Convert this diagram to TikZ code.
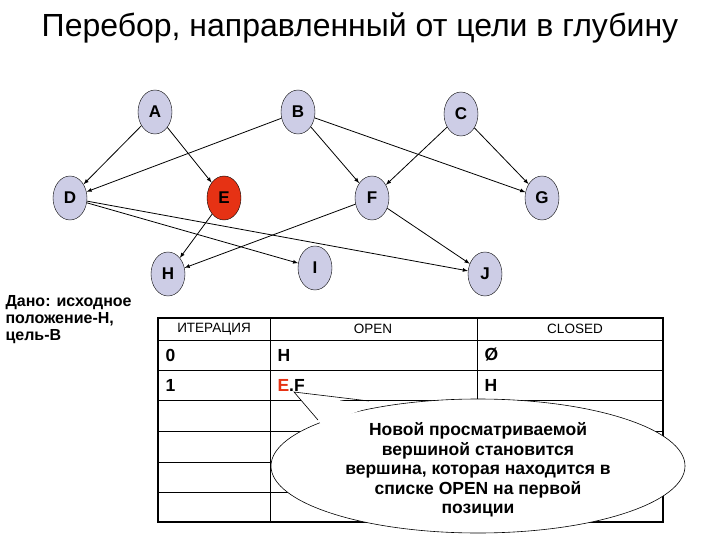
\documentclass[tikz,border=0pt]{standalone}
\usepackage{fontspec}
\setmainfont{Liberation Sans}
\usetikzlibrary{shapes.geometric}
\definecolor{nodefill}{RGB}{205,205,230}
\definecolor{ered}{RGB}{230,50,20}
\tikzset{
  vert/.style={ellipse,draw=black,fill=nodefill,minimum width=34pt,minimum height=44pt,inner sep=0pt,font=\fontsize{17}{17}\selectfont\bfseries},
  edge/.style={draw=black,line width=0.8pt,-latex},
  cell/.style={anchor=west,font=\fontsize{17.5}{17.5}\selectfont\bfseries},
  hdr/.style={font=\fontsize{13.5}{13.5}\selectfont},
}
\begin{document}
\begin{tikzpicture}[x=1pt,y=-1pt]
\useasboundingbox (0,0) rectangle (720,540);
\node (title) at (360,28) {\fontsize{32}{32}\selectfont Перебор, направленный от цели в глубину};
\node[vert] (A) at (155,112) {A};
\node[vert] (B) at (298,112) {B};
\node[vert] (C) at (461,114) {C};
\node[vert] (D) at (70,198) {D};
\node[vert,fill=ered] (E) at (224,198) {E};
\node[vert] (F) at (372,198) {F};
\node[vert] (G) at (542,198) {G};
\node[vert] (H) at (168,274) {H};
\node[vert] (I) at (315,268) {I};
\node[vert] (J) at (485,274) {J};
\foreach \a/\b in {A/D,A/E,B/D,B/F,B/G,C/F,C/G,D/I,D/J,E/H,F/H,F/J}
  \draw[edge] (\a) -- (\b);
\node[align=left,anchor=north west,font=\fontsize{16}{17}\selectfont\bfseries] (given) at (2,292) {Дано: исходное\\положение-Н,\\цель-В};
% table
\draw[line width=1.2pt] (158,318) rectangle (663,522);
\foreach \y in {340,370,400,431,462,492} \draw[line width=0.8pt] (158,\y) -- (663,\y);
\draw[line width=0.8pt] (270,318) -- (270,522);
\draw[line width=0.8pt] (477,318) -- (477,400);
\node[hdr] (h1) at (214,329) {ИТЕРАЦИЯ};
\node[hdr] (h2) at (373,329) {OPEN};
\node[hdr] (h3) at (575,329) {CLOSED};
\node[cell] (r0a) at (162,355) {0};
\node[cell] (r0b) at (274,355) {H};
\node[cell] (r0c) at (481,355) {Ø};
\node[cell] (r1a) at (162,385) {1};
\node[cell] (r1b) at (274,385) {\textcolor{ered}{E}.F};
\node[cell] (r1c) at (481,385) {H};
% callout
\draw[fill=white,line width=0.6pt] (478,466) ellipse [x radius=207pt,y radius=67pt];
\fill[white] (294,392) -- (322,425) -- (372,406) -- cycle;
\draw[line width=0.6pt] (318,420) -- (294,392) -- (369,401);
\node[align=center,font=\fontsize{17.5}{19.5}\selectfont\bfseries] (note) at (478,470) {Новой просматриваемой\\вершиной становится\\вершина, которая находится в\\списке OPEN на первой\\позиции};
\end{tikzpicture}
\end{document}
